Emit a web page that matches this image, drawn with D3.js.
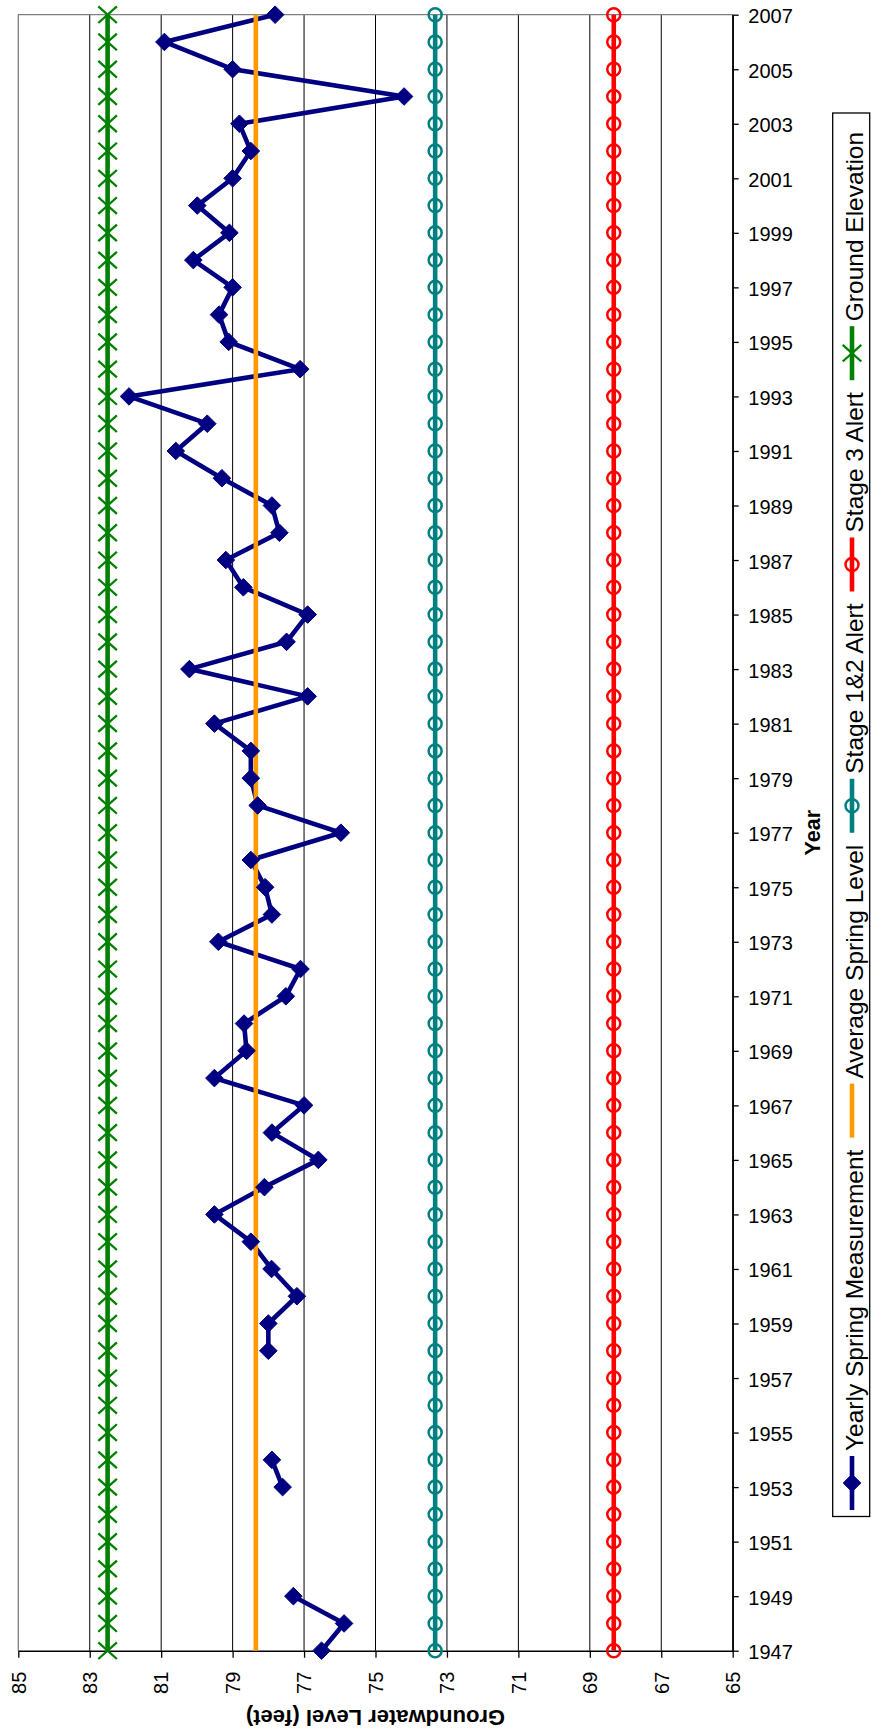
<!DOCTYPE html>
<html>
<head>
<meta charset="utf-8">
<script src="https://cdn.jsdelivr.net/npm/d3@7"></script>
<style>
  html, body { margin: 0; padding: 0; background: #fff; }
  svg { display: block; font-family: "Liberation Sans", Arial, sans-serif; }
</style>
</head>
<body>
<svg id="chart" width="871" height="1731"></svg>
<script>
// Spring groundwater measurements, one entry per year (null = no measurement)
const years = [
  1947, 1948, 1949, 1950, 1951, 1952, 1953, 1954, 1955, 1956,
  1957, 1958, 1959, 1960, 1961, 1962, 1963, 1964, 1965, 1966,
  1967, 1968, 1969, 1970, 1971, 1972, 1973, 1974, 1975, 1976,
  1977, 1978, 1979, 1980, 1981, 1982, 1983, 1984, 1985, 1986,
  1987, 1988, 1989, 1990, 1991, 1992, 1993, 1994, 1995, 1996,
  1997, 1998, 1999, 2000, 2001, 2002, 2003, 2004, 2005, 2006, 2007
];
const springLevels = [
  76.51, 75.88, 77.30, null, null, null, 77.60, 77.90, null, null,
  null, 78.00, 78.00, 77.20, 77.91, 78.49, 79.51, 78.11, 76.60, 77.90,
  77.00, 79.51, 78.61, 78.68, 77.51, 77.10, 79.40, 77.90, 78.09, 78.49,
  75.97, 78.30, 78.49, 78.49, 79.51, 76.90, 80.21, 77.49, 76.90, 78.70,
  79.19, 77.69, 77.90, 79.30, 80.59, 79.71, 81.90, 77.11, 79.11, 79.38,
  79.00, 80.10, 79.09, 79.99, 79.00, 78.49, 78.81, 74.20, 79.00, 80.91, 77.81
];

// Reference levels (feet)
const averageSpringLevel = 78.35;
const stage12Alert = 73.33;
const stage3Alert = 68.33;
const groundElevation = 82.5;

const levelTicks = [85, 83, 81, 79, 77, 75, 73, 71, 69, 67, 65];
const yearTicks = [
  1947, 1949, 1951, 1953, 1955, 1957, 1959, 1961, 1963, 1965, 1967,
  1969, 1971, 1973, 1975, 1977, 1979, 1981, 1983, 1985, 1987, 1989,
  1991, 1993, 1995, 1997, 1999, 2001, 2003, 2005, 2007
];
const seriesNames = [
  "Yearly Spring Measurement",
  "Average Spring Level",
  "Stage 1&2 Alert",
  "Stage 3 Alert",
  "Ground Elevation"
];

const svg = d3.select("#chart");
const plot = { left: 18.3, right: 732.7, top: 14.7, bottom: 1650.7 };

// Level runs left-to-right (high to low), year runs bottom-to-top
const x = d3.scaleLinear().domain([85, 65]).range([plot.left, plot.right]);
const y = d3.scaleLinear().domain([1947, 2007]).range([plot.bottom, plot.top]);

// Gridlines
svg.append("g")
  .selectAll("line")
  .data(levelTicks.filter(v => v !== 85))
  .join("line")
  .attr("x1", d => x(d)).attr("x2", d => x(d))
  .attr("y1", plot.top).attr("y2", plot.bottom)
  .attr("stroke", "#000").attr("stroke-width", 1);

// Plot area frame (left and top edges)
svg.append("path")
  .attr("d", `M${plot.left},${plot.bottom}V${plot.top}H${plot.right}`)
  .attr("fill", "none").attr("stroke", "#808080").attr("stroke-width", 1.3);

// Level axis along the bottom
const levelAxis = svg.append("g")
  .attr("transform", `translate(0,${plot.bottom})`)
  .call(d3.axisBottom(x).tickValues(levelTicks).tickSize(7).tickSizeOuter(0).tickFormat(""));
levelAxis.select(".domain").attr("stroke", "#000").attr("stroke-width", 1.5);
levelAxis.selectAll(".tick line").attr("stroke", "#000").attr("stroke-width", 1.3);

svg.append("g")
  .selectAll("text")
  .data(levelTicks)
  .join("text")
  .attr("transform", d => `translate(${x(d) + 7.3},${plot.bottom + 21}) rotate(-90)`)
  .attr("text-anchor", "end")
  .attr("font-size", 20)
  .attr("fill", "#000")
  .text(d => d);

svg.append("text")
  .attr("transform", `translate(${(plot.left + plot.right) / 2},1709.6) rotate(180)`)
  .attr("text-anchor", "middle")
  .attr("font-size", 22)
  .attr("font-weight", "bold")
  .text("Groundwater Level (feet)");

// Year axis along the right side
const yearAxis = svg.append("g")
  .attr("transform", `translate(${plot.right},0)`)
  .call(d3.axisRight(y).tickValues(yearTicks).tickSize(6).tickSizeOuter(0)
    .tickPadding(9.6).tickFormat(d3.format("d")));
yearAxis.select(".domain").attr("stroke", "#000").attr("stroke-width", 1.5);
yearAxis.selectAll(".tick line").attr("stroke", "#000").attr("stroke-width", 1.3);
yearAxis.selectAll(".tick text")
  .attr("font-family", "Liberation Sans, Arial, sans-serif")
  .attr("font-size", 20)
  .attr("fill", "#000")
  .attr("dy", "0.4em");

svg.append("text")
  .attr("transform", `translate(820,${(plot.top + plot.bottom) / 2}) rotate(-90)`)
  .attr("text-anchor", "middle")
  .attr("font-size", 21.5)
  .attr("font-weight", "bold")
  .text("Year");

// Series
const measured = years.map((yr, i) => ({ year: yr, v: springLevels[i] }));
const constantSeries = v => years.map(yr => ({ year: yr, v }));

const series = [
  { name: seriesNames[0], data: measured, color: "#000080", marker: "diamond" },
  { name: seriesNames[1], data: constantSeries(averageSpringLevel), color: "#FF9900", marker: null },
  { name: seriesNames[2], data: constantSeries(stage12Alert), color: "#008080", marker: "circle" },
  { name: seriesNames[3], data: constantSeries(stage3Alert), color: "#FF0000", marker: "circle" },
  { name: seriesNames[4], data: constantSeries(groundElevation), color: "#008000", marker: "x" }
];

const lineWidth = 4.6;

const line = d3.line()
  .defined(d => d.v !== null)
  .x(d => x(d.v))
  .y(d => y(d.year));

function drawMarker(sel, type, color) {
  if (type === "diamond") {
    sel.append("path")
      .attr("d", "M0,-8.8L8.8,0L0,8.8L-8.8,0Z")
      .attr("fill", color).attr("stroke", color).attr("stroke-width", 1);
  } else if (type === "circle") {
    sel.append("circle")
      .attr("r", 6.5)
      .attr("fill", "none").attr("stroke", color).attr("stroke-width", 2.5);
  } else if (type === "x") {
    sel.append("path")
      .attr("d", "M-9.3,-8.3L9.3,8.3M-9.3,8.3L9.3,-8.3")
      .attr("fill", "none").attr("stroke", color).attr("stroke-width", 2.3);
  }
}

const linesG = svg.append("g");
series.forEach(s => {
  linesG.append("path")
    .datum(s.data)
    .attr("d", line)
    .attr("fill", "none")
    .attr("stroke", s.color)
    .attr("stroke-width", lineWidth)
    .attr("stroke-linejoin", "round");
});

const markersG = svg.append("g");
series.filter(s => s.marker).forEach(s => {
  markersG.append("g")
    .selectAll("g")
    .data(s.data.filter(d => d.v !== null))
    .join("g")
    .attr("transform", d => `translate(${x(d.v)},${y(d.year)})`)
    .each(function () { drawMarker(d3.select(this), s.marker, s.color); });
});

// Legend, stacked bottom-to-top along the right edge
const legend = svg.append("g");
legend.append("rect")
  .attr("x", 832.7).attr("y", 113)
  .attr("width", 37).attr("height", 1403.5)
  .attr("fill", "#fff").attr("stroke", "#000").attr("stroke-width", 1.3);

const symLen = 54, textGap = 5, itemGap = 12, symX = 852, textX = 863;
let cursor = 1510;
series.forEach(s => {
  const g = legend.append("g");
  const y0 = cursor, y1 = cursor - symLen;
  g.append("line")
    .attr("x1", symX).attr("x2", symX)
    .attr("y1", y0).attr("y2", y1)
    .attr("stroke", s.color).attr("stroke-width", lineWidth);
  if (s.marker) {
    const m = g.append("g").attr("transform", `translate(${symX},${(y0 + y1) / 2})`);
    drawMarker(m, s.marker, s.color);
  }
  const t = g.append("text")
    .attr("transform", `translate(${textX},${y1 - textGap}) rotate(-90)`)
    .attr("font-size", 24.5)
    .attr("fill", "#000")
    .text(s.name);
  cursor = y1 - textGap - t.node().getComputedTextLength() - itemGap;
});
</script>
</body>
</html>
